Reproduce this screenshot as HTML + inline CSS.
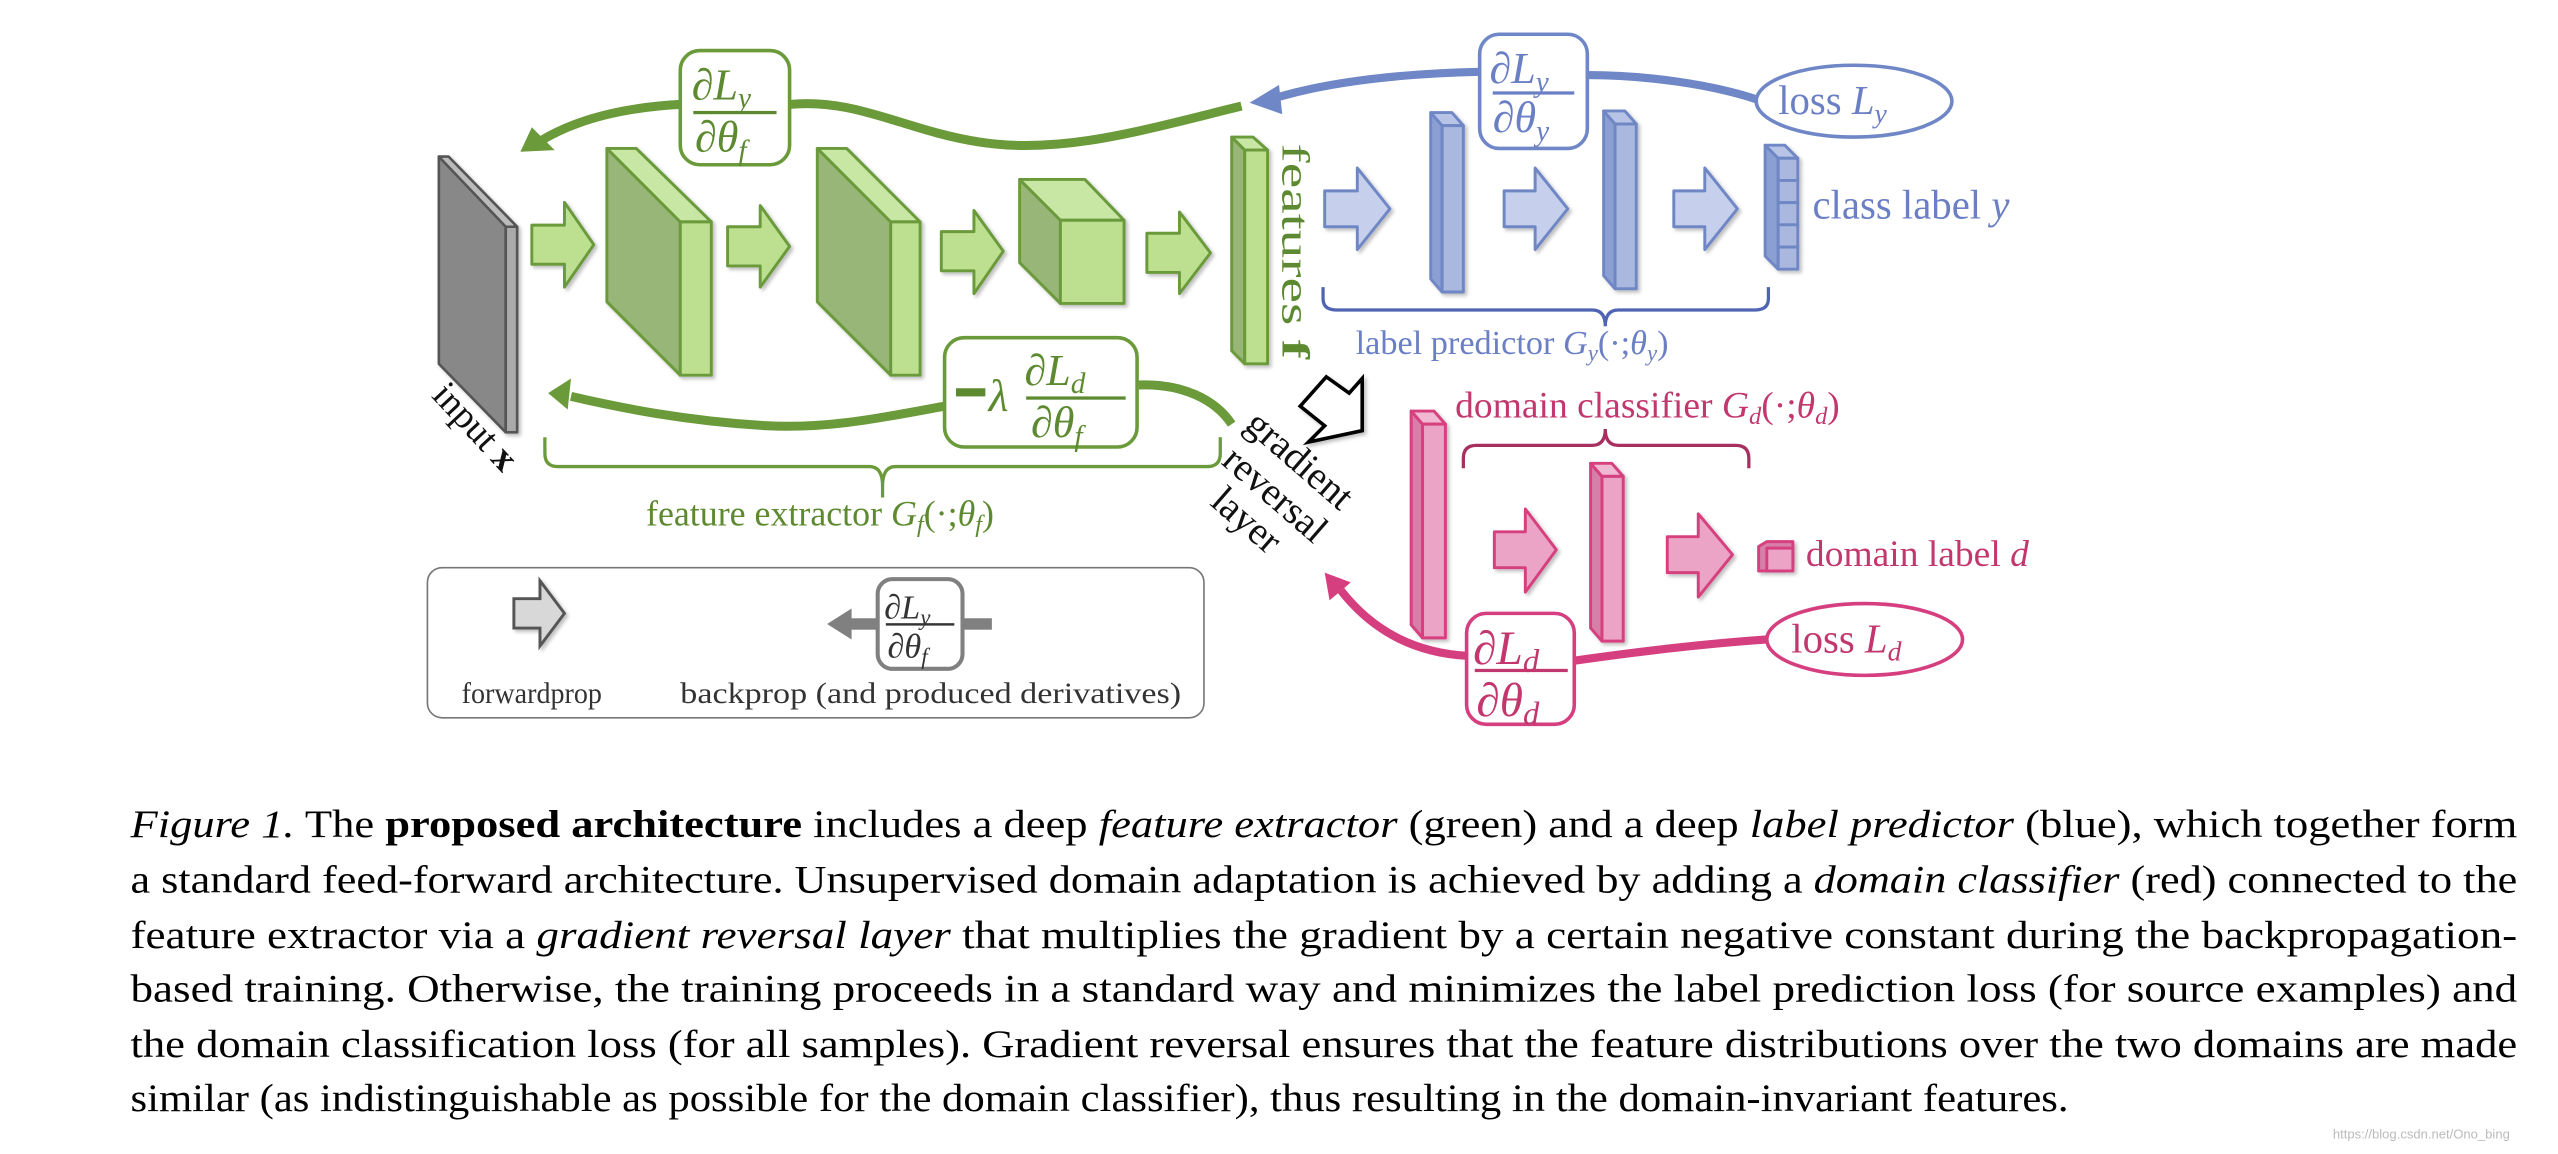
<!DOCTYPE html>
<html><head><meta charset="utf-8"><style>
html,body{margin:0;padding:0;background:#fff;}
svg{display:block;}
text{font-family:"Liberation Serif","DejaVu Serif",serif;}
.it{font-style:italic;}
</style></head><body>
<svg width="2558" height="1154" viewBox="0 0 1568 707.4" preserveAspectRatio="none" xmlns="http://www.w3.org/2000/svg">
<defs>
<filter id="sh" x="-20%" y="-20%" width="140%" height="140%"><feDropShadow dx="1.5" dy="1.5" stdDeviation="1.2" flood-color="#000" flood-opacity="0.25"/></filter>
</defs>
<rect width="1568" height="708" fill="#fff"/>

<g filter="url(#sh)" stroke="#555" stroke-width="1.6" stroke-linejoin="round">
<polygon points="269,96 310,138 310,265 269,223" fill="#888"/>
<polygon points="269,96 275,96 317,139 310,139" fill="#bbb"/>
<polygon points="310,139 317,139 317,265 310,265" fill="#aaa"/>
</g>

<g filter="url(#sh)" stroke="#6a9a3a" stroke-width="1.8" stroke-linejoin="round">
<polygon points="372,91 417,136 417,230 372,185" fill="#98b677"/>
<polygon points="372,91 390,91 436,136 417,136" fill="#c8e6a4"/>
<rect x="417" y="136" width="19" height="94" fill="#bde090"/>
<polygon points="501,91 546,136 546,230 501,185" fill="#98b677"/>
<polygon points="501,91 519,91 564,136 546,136" fill="#c8e6a4"/>
<rect x="546" y="136" width="18" height="94" fill="#bde090"/>
<polygon points="625,110 650,135 650,186 625,161" fill="#98b677"/>
<polygon points="625,110 665,110 689,135 650,135" fill="#c8e6a4"/>
<rect x="650" y="135" width="39" height="51" fill="#bde090"/>
<polygon points="755,84 763,92 763,223 755,215" fill="#98b677"/>
<polygon points="755,84 768,84 777,92 763,92" fill="#c8e6a4"/>
<rect x="763" y="92" width="14" height="131" fill="#bde090"/>
<polygon points="326,138 346,138 346,124 364,150 346,176 346,162 326,162" fill="#bde090"/>
<polygon points="446,139 466,139 466,126 484,151 466,176 466,163 446,163" fill="#bde090"/>
<polygon points="577,142 597,142 597,129 615,154 597,180 597,166 577,166" fill="#bde090"/>
<polygon points="703,143 723,143 723,130 742,155 723,180 723,167 703,167" fill="#bde090"/>
</g>

<g filter="url(#sh)" stroke="#6f87c6" stroke-width="1.8" stroke-linejoin="round">
<polygon points="812,117 832,117 832,103 852,128 832,153 832,139 812,139" fill="#c6d0ec"/>
<polygon points="922,117 941,117 941,103 961,128 941,153 941,139 922,139" fill="#c6d0ec"/>
<polygon points="1026,117 1045,117 1045,103 1065,128 1045,153 1045,139 1026,139" fill="#c6d0ec"/>
<polygon points="877,69 884,77 884,179 877,171" fill="#8c9fd2"/>
<polygon points="877,69 890,69 897,77 884,77" fill="#b8c4e6"/>
<rect x="884" y="77" width="13" height="102" fill="#aab8e0"/>
<polygon points="983,68 990,76 990,177 983,169" fill="#8c9fd2"/>
<polygon points="983,68 996,68 1003,76 990,76" fill="#b8c4e6"/>
<rect x="990" y="76" width="13" height="101" fill="#aab8e0"/>
<polygon points="1082,89 1090,97 1090,165 1082,157" fill="#8c9fd2"/>
<polygon points="1082,89 1094,89 1102,97 1090,97" fill="#b8c4e6"/>
<rect x="1090" y="97" width="12" height="13.6" fill="#aab8e0"/>
<rect x="1090" y="110.6" width="12" height="13.6" fill="#aab8e0"/>
<rect x="1090" y="124.2" width="12" height="13.6" fill="#aab8e0"/>
<rect x="1090" y="137.8" width="12" height="13.6" fill="#aab8e0"/>
<rect x="1090" y="151.4" width="12" height="13.6" fill="#aab8e0"/>
</g>

<g filter="url(#sh)" stroke="#d63f7f" stroke-width="1.8" stroke-linejoin="round">
<polygon points="865,252 872,260 872,391 865,383" fill="#d67fa9"/>
<polygon points="865,252 879,252 886,260 872,260" fill="#f0b8d2"/>
<rect x="872" y="260" width="14" height="131" fill="#eba4c6"/>
<polygon points="975,284 982,292 982,393 975,385" fill="#d67fa9"/>
<polygon points="975,284 988,284 995,292 982,292" fill="#f0b8d2"/>
<rect x="982" y="292" width="13" height="101" fill="#eba4c6"/>
<polygon points="916,326 935,326 935,312 954,337 935,363 935,348 916,348" fill="#eba4c6"/>
<polygon points="1022,329 1041,329 1041,315 1062,340 1041,366 1041,351 1022,351" fill="#eba4c6"/>
<polygon points="1078,335 1083,332 1099,332 1099,346 1094,350 1078,350" fill="#d67fa9"/>
<rect x="1083" y="336" width="16" height="14" fill="#eba4c6"/>
</g>

<g fill="none" stroke="#6a9a3a" stroke-width="5.5" stroke-linecap="butt">
<path d="M761,65 C700,80 650,95 600,87 C555,80 525,60 484,64"/>
<path d="M417,64 C380,66 352,74 332,86"/>
<path d="M755,260 C745,245 725,235 698,236"/>
<path d="M579,249 C545,255 510,263 470,261 C420,258 380,250 350,243"/>
</g>
<polygon points="319,93 326,78 340,92" fill="#6a9a3a"/>
<polygon points="336,241 350,232 348,251" fill="#6a9a3a"/>
<rect x="417" y="31" width="67" height="70" rx="12" fill="#fff" stroke="#6a9a3a" stroke-width="2.2"/>
<rect x="579" y="207" width="118" height="67" rx="12" fill="#fff" stroke="#6a9a3a" stroke-width="2.2"/>
<g fill="#5d8a30">
<text x="424" y="61" font-size="27"><tspan>∂</tspan><tspan class="it">L</tspan><tspan class="it" font-size="18" dy="5">y</tspan></text>
<rect x="425" y="68" width="51" height="2"/>
<text x="426" y="93" font-size="27"><tspan>∂</tspan><tspan class="it">θ</tspan><tspan class="it" font-size="18" dy="5">f</tspan></text>
<rect x="586" y="238" width="18" height="5"/>
<text x="606" y="252" font-size="28" class="it">λ</text>
<text x="628" y="236" font-size="27"><tspan>∂</tspan><tspan class="it">L</tspan><tspan class="it" font-size="18" dy="5">d</tspan></text>
<rect x="629" y="243" width="61" height="2"/>
<text x="632" y="268" font-size="27"><tspan>∂</tspan><tspan class="it">θ</tspan><tspan class="it" font-size="18" dy="5">f</tspan></text>
<text transform="translate(786,88) rotate(90)" font-size="24" textLength="132" lengthAdjust="spacingAndGlyphs">features <tspan font-weight="bold">f</tspan></text>
<text x="396" y="322" font-size="22">feature extractor <tspan class="it">G</tspan><tspan class="it" font-size="15" dy="4">f</tspan><tspan dy="-4">(·;</tspan><tspan class="it">θ</tspan><tspan class="it" font-size="15" dy="4">f</tspan><tspan dy="-4">)</tspan></text>
</g>
<path d="M334,268 L334,278 Q334,286 342,286 L533,286 Q541,286 541,298 L541,305 M541,298 Q541,286 549,286 L740,286 Q748,286 748,278 L748,268" fill="none" stroke="#6a9a3a" stroke-width="2"/>

<g fill="none" stroke="#6f87c6" stroke-width="5">
<path d="M1077,61 C1050,52 1010,46 973,46"/>
<path d="M907,44 C860,45 815,50 782,60"/>
</g>
<polygon points="766,63 784,52 786,70" fill="#6f87c6"/>
<rect x="907" y="21" width="66" height="70" rx="12" fill="#fff" stroke="#6f87c6" stroke-width="2.2"/>
<ellipse cx="1136.5" cy="62" rx="60" ry="22" fill="#fff" stroke="#6f87c6" stroke-width="2.2"/>
<path d="M811,176 L811,183 Q811,190 819,190 L976,190 Q984,190 984,200 M984,200 Q984,190 992,190 L1076,190 Q1084,190 1084,183 L1084,176" fill="none" stroke="#5064b4" stroke-width="2"/>
<g fill="#6b7fc4">
<text x="913" y="51" font-size="27"><tspan>∂</tspan><tspan class="it">L</tspan><tspan class="it" font-size="18" dy="5">y</tspan></text>
<rect x="915" y="56" width="50" height="2"/>
<text x="915" y="81" font-size="27"><tspan>∂</tspan><tspan class="it">θ</tspan><tspan class="it" font-size="18" dy="5">y</tspan></text>
<text x="1090" y="70" font-size="25">loss <tspan class="it">L</tspan><tspan class="it" font-size="17" dy="5">y</tspan></text>
<text x="1111" y="134" font-size="25">class label <tspan class="it">y</tspan></text>
<text x="831" y="217" font-size="21">label predictor <tspan class="it">G</tspan><tspan class="it" font-size="14" dy="4">y</tspan><tspan dy="-4">(·;</tspan><tspan class="it">θ</tspan><tspan class="it" font-size="14" dy="4">y</tspan><tspan dy="-4">)</tspan></text>
</g>

<g fill="none" stroke="#d63f7f" stroke-width="5">
<path d="M1083,392 C1040,395 1000,400 965,405"/>
<path d="M899,402 C865,400 840,385 822,362"/>
</g>
<polygon points="812,351 828,357 815,368" fill="#d63f7f"/>
<rect x="899" y="376" width="66" height="68" rx="12" fill="#fff" stroke="#d63f7f" stroke-width="2.2"/>
<ellipse cx="1143" cy="392" rx="60" ry="22" fill="#fff" stroke="#d63f7f" stroke-width="2.2"/>
<path d="M897,287 L897,281 Q897,273 905,273 L976,273 Q984,273 984,263 M984,263 Q984,273 992,273 L1064,273 Q1072,273 1072,281 L1072,287" fill="none" stroke="#a83060" stroke-width="2"/>
<g fill="#c2386e">
<text x="903" y="407" font-size="29"><tspan>∂</tspan><tspan class="it">L</tspan><tspan class="it" font-size="20" dy="5">d</tspan></text>
<rect x="904" y="410" width="57" height="2"/>
<text x="905" y="439" font-size="29"><tspan>∂</tspan><tspan class="it">θ</tspan><tspan class="it" font-size="20" dy="5">d</tspan></text>
<text x="1098" y="400" font-size="25">loss <tspan class="it">L</tspan><tspan class="it" font-size="17" dy="5">d</tspan></text>
<text x="1107" y="347" font-size="23">domain label <tspan class="it">d</tspan></text>
<text x="892" y="256" font-size="23">domain classifier <tspan class="it">G</tspan><tspan class="it" font-size="15" dy="4">d</tspan><tspan dy="-4">(·;</tspan><tspan class="it">θ</tspan><tspan class="it" font-size="15" dy="4">d</tspan><tspan dy="-4">)</tspan></text>
</g>

<polygon points="797,249 813,231 827,241 835,232 835,264 802,271 812,261" fill="#fff" stroke="#000" stroke-width="2.2" stroke-linejoin="miter" filter="url(#sh)"/>
<g fill="#111" font-size="24">
<text transform="translate(762,262) rotate(41)">gradient</text>
<text transform="translate(748,284) rotate(41)">reversal</text>
<text transform="translate(741,309) rotate(41)">layer</text>
<text transform="translate(264,243) rotate(47)" font-size="23">input <tspan font-weight="bold">x</tspan></text>
</g>

<rect x="262" y="348" width="476" height="92" rx="9" fill="#fff" stroke="#777" stroke-width="1"/>
<polygon points="315,367 331,367 331,356 346,376 331,396 331,385 315,385" fill="#d8d8d8" stroke="#555" stroke-width="1.8" filter="url(#sh)"/>
<rect x="520" y="379" width="88" height="7" fill="#808080"/>
<polygon points="507,382.5 522,373 522,392" fill="#808080"/>
<rect x="538" y="355" width="52" height="55" rx="9" fill="#fff" stroke="#808080" stroke-width="2.5"/>
<g fill="#333">
<text x="542" y="379" font-size="21"><tspan>∂</tspan><tspan class="it">L</tspan><tspan class="it" font-size="14" dy="4">y</tspan></text>
<rect x="543" y="382" width="42" height="1.5"/>
<text x="544" y="403" font-size="21"><tspan>∂</tspan><tspan class="it">θ</tspan><tspan class="it" font-size="14" dy="4">f</tspan></text>
<text x="283" y="431" font-size="18" textLength="86" lengthAdjust="spacingAndGlyphs">forwardprop</text>
<text x="417" y="431" font-size="18" textLength="307" lengthAdjust="spacingAndGlyphs">backprop (and produced derivatives)</text>
</g>

<g fill="#000" font-size="24">
<text x="80" y="513" textLength="1463" lengthAdjust="spacingAndGlyphs"><tspan class="it">Figure 1.</tspan> The <tspan font-weight="bold">proposed architecture</tspan> includes a deep <tspan class="it">feature extractor</tspan> (green) and a deep <tspan class="it">label predictor</tspan> (blue), which together form</text>
<text x="80" y="547" textLength="1463" lengthAdjust="spacingAndGlyphs">a standard feed-forward architecture. Unsupervised domain adaptation is achieved by adding a <tspan class="it">domain classifier</tspan> (red) connected to the</text>
<text x="80" y="581" textLength="1463" lengthAdjust="spacingAndGlyphs">feature extractor via a <tspan class="it">gradient reversal layer</tspan> that multiplies the gradient by a certain negative constant during the backpropagation-</text>
<text x="80" y="614" textLength="1463" lengthAdjust="spacingAndGlyphs">based training. Otherwise, the training proceeds in a standard way and minimizes the label prediction loss (for source examples) and</text>
<text x="80" y="648" textLength="1463" lengthAdjust="spacingAndGlyphs">the domain classification loss (for all samples). Gradient reversal ensures that the feature distributions over the two domains are made</text>
<text x="80" y="681" textLength="1188" lengthAdjust="spacingAndGlyphs">similar (as indistinguishable as possible for the domain classifier), thus resulting in the domain-invariant features.</text>
</g>
<text x="1430" y="698" font-size="8" fill="#bbb" style="font-family:'Liberation Sans',sans-serif">https://blog.csdn.net/Ono_bing</text>
</svg>
</body></html>
